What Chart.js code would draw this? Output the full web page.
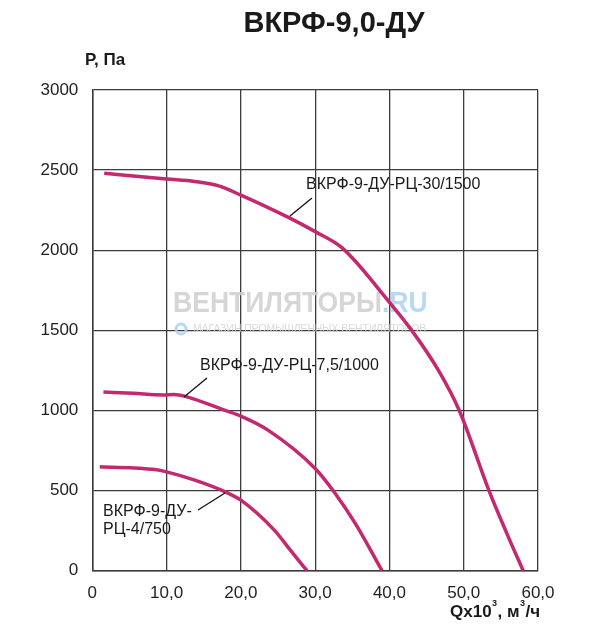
<!DOCTYPE html>
<html>
<head>
<meta charset="utf-8">
<script src="https://cdn.jsdelivr.net/npm/chart.js@4"></script>
<style>
  html, body { margin: 0; padding: 0; background: #fff; }
  #chart { display: block; }
</style>
</head>
<body>
<canvas id="chart" width="600" height="630"></canvas>
<script>
// fan curves: Q in 10^3 m3/h, P in Pa
const q30 = [1.6, 10, 13.8, 17, 20, 26.6, 30, 33.6, 40, 43, 46.6, 49.4, 53.4, 55.8, 58.0];
const p30 = [2480, 2444, 2429, 2402, 2344, 2200, 2116, 2016, 1675, 1500, 1250, 1000, 500, 233, 0];

const q75 = [1.5, 5.5, 9.5, 11, 12.5, 17.9, 20, 23.7, 30, 32.7, 35.4, 39.0];
const p75 = [1115, 1107, 1097, 1100, 1088, 1000, 965, 876, 638, 482, 295, 0];

const q4 = [1.0, 8.4, 10, 13.8, 17.9, 20, 24.5, 26.8, 28.9];
const p4 = [648, 631, 617, 565, 492, 440, 253, 120, 0];

const xTickLabels = ["0", "10,0", "20,0", "30,0", "40,0", "50,0", "60,0"];
const yTickLabels = ["0", "500", "1000", "1500", "2000", "2500", "3000"];

const curveColor = "#c4286f";
const gridColor = "#3c3c3c";
const font = "'Liberation Sans', Arial, sans-serif";

const toPoints = (xs, ys) => xs.map((x, i) => ({ x: x, y: ys[i] }));

const curve = (xs, ys) => ({
  data: toPoints(xs, ys),
  showLine: true,
  borderColor: curveColor,
  borderWidth: 3.5,
  pointRadius: 0,
  cubicInterpolationMode: "monotone",
  fill: false
});

function text(ctx, s, x, y, f, color, align) {
  ctx.font = f;
  ctx.fillStyle = color;
  ctx.textAlign = align || "left";
  ctx.textBaseline = "middle";
  ctx.fillText(s, x, y);
}

function line(ctx, x1, y1, x2, y2) {
  ctx.beginPath();
  ctx.moveTo(x1, y1);
  ctx.lineTo(x2, y2);
  ctx.strokeStyle = "#111";
  ctx.lineWidth = 1.3;
  ctx.stroke();
}

const watermark = {
  id: "watermark",
  beforeDatasetsDraw(chart) {
    const ctx = chart.ctx;
    ctx.save();
    ctx.globalAlpha = 0.85;
    // squeeze the logo to the width seen in the picture
    ctx.translate(173, 304);
    ctx.scale(0.885, 1);
    ctx.font = "bold 30px " + font;
    const w = ctx.measureText("ВЕНТИЛЯТОРЫ").width;
    text(ctx, "ВЕНТИЛЯТОРЫ", 0, 0, "bold 30px " + font, "#cfcfcf");
    text(ctx, ".RU", w, 0, "bold 30px " + font, "#a9d2f3");
    ctx.setTransform(1, 0, 0, 1, 0, 0);
    ctx.translate(193, 329);
    ctx.scale(0.9, 1);
    text(ctx, "МАГАЗИН ПРОМЫШЛЕННЫХ ВЕНТИЛЯТОРОВ", 0, 0, "11.5px " + font, "#d4d4d4");
    ctx.setTransform(1, 0, 0, 1, 0, 0);
    ctx.beginPath();
    ctx.arc(181, 329, 5, 0, Math.PI * 2);
    ctx.strokeStyle = "#a9d2f3";
    ctx.lineWidth = 3;
    ctx.stroke();
    ctx.restore();
  }
};

const labels = {
  id: "labels",
  afterDraw(chart) {
    const ctx = chart.ctx;
    ctx.save();
    text(ctx, "ВКРФ-9,0-ДУ", 334, 24, "bold 29px " + font, "#1a1a1a", "center");
    text(ctx, "Р, Па", 85, 60, "bold 17px " + font, "#1a1a1a");
    ctx.font = "bold 17px " + font;
    const qx = 450;
    text(ctx, "Qx10", qx, 612, "bold 17px " + font, "#1a1a1a");
    let w = ctx.measureText("Qx10").width;
    text(ctx, "3", qx + w + 0.5, 604, "bold 9px " + font, "#1a1a1a");
    ctx.font = "bold 17px " + font;
    text(ctx, ", м", qx + w + 6, 612, "bold 17px " + font, "#1a1a1a");
    w += 6 + ctx.measureText(", м").width;
    text(ctx, "3", qx + w + 0.5, 604, "bold 9px " + font, "#1a1a1a");
    text(ctx, "/ч", qx + w + 6, 612, "bold 17px " + font, "#1a1a1a");

    const lf = "16px " + font;
    text(ctx, "ВКРФ-9-ДУ-РЦ-30/1500", 306, 185, lf, "#1a1a1a");
    line(ctx, 290, 216, 312, 198);
    text(ctx, "ВКРФ-9-ДУ-РЦ-7,5/1000", 200, 366, lf, "#1a1a1a");
    line(ctx, 184, 397, 207, 378);
    text(ctx, "ВКРФ-9-ДУ-", 103, 512, lf, "#1a1a1a");
    text(ctx, "РЦ-4/750", 103, 530, lf, "#1a1a1a");
    line(ctx, 198, 510, 225, 493);
    ctx.restore();
  }
};

new Chart(document.getElementById("chart"), {
  type: "scatter",
  data: { datasets: [curve(q30, p30), curve(q75, p75), curve(q4, p4)] },
  options: {
    responsive: false,
    animation: false,
    devicePixelRatio: 1,
    layout: { padding: { left: 0, right: 62, top: 90, bottom: 0 } },
    plugins: { legend: { display: false }, tooltip: { enabled: false } },
    scales: {
      x: {
        type: "linear",
        min: 0,
        max: 60,
        afterFit: s => { s.height = 59.3; },
        afterBuildTicks: s => { s.ticks = xTickLabels.map((t, i) => ({ value: i * 10 })); },
        ticks: {
          callback: (v, i) => xTickLabels[i],
          color: "#222",
          font: { family: font, size: 17 },
          padding: 12,
          maxRotation: 0
        },
        grid: { color: gridColor, lineWidth: 1.3, drawTicks: false },
        border: { color: gridColor, width: 1.5 }
      },
      y: {
        min: 0,
        max: 3000,
        afterFit: s => { s.width = 92.3; },
        afterBuildTicks: s => { s.ticks = yTickLabels.map((t, i) => ({ value: i * 500 })); },
        ticks: {
          callback: (v, i) => yTickLabels[i],
          color: "#222",
          font: { family: font, size: 17 },
          padding: 14
        },
        grid: { color: gridColor, lineWidth: 1.3, drawTicks: false },
        border: { color: gridColor, width: 1.5 }
      }
    }
  },
  plugins: [watermark, labels]
});
</script>
</body>
</html>
